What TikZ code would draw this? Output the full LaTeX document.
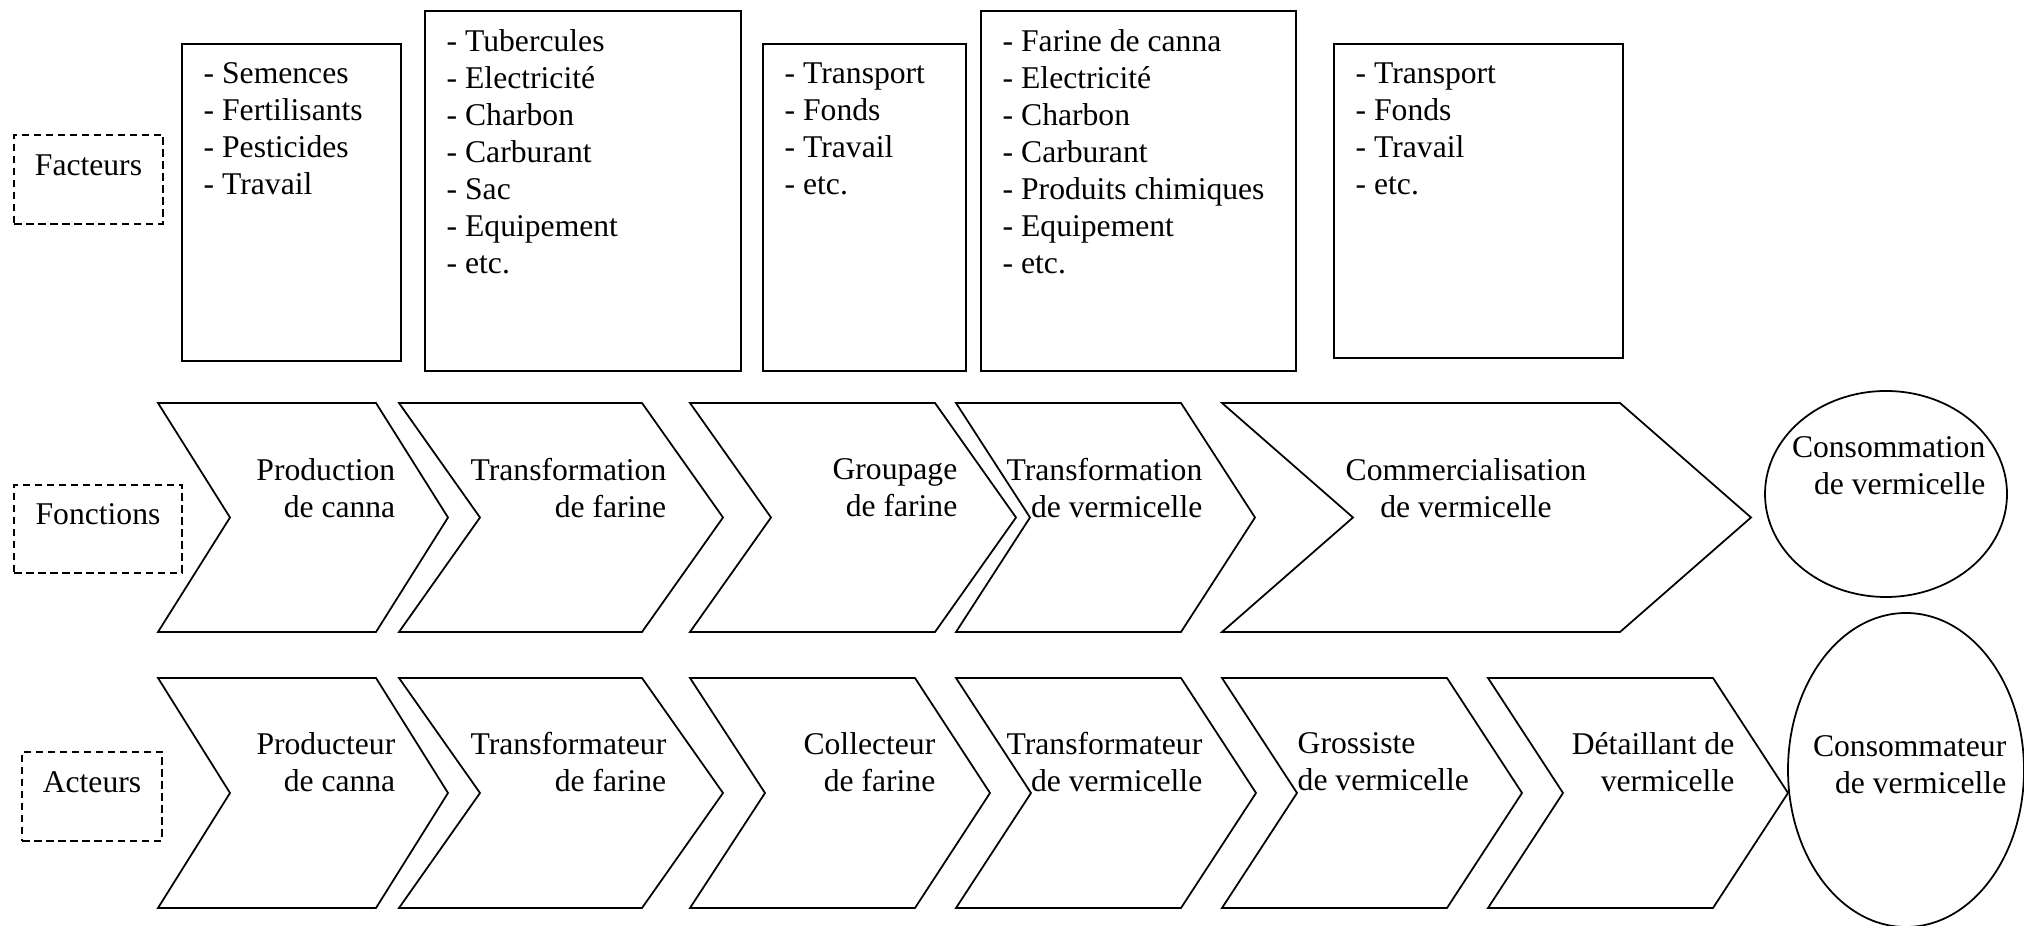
\documentclass[tikz,border=0pt]{standalone}
\usepackage{fontspec}
\setmainfont{Liberation Serif}
\usetikzlibrary{positioning, shapes.geometric}

\tikzset{
  factbox/.style={draw, line width=0.5pt, inner sep=0pt, anchor=north west},
  listtext/.style={align=left, inner sep=0pt},
  rowlabel/.style={draw, line width=0.5pt, dash pattern=on 0.75mm off 0.45mm, inner sep=0pt, text depth=2.9mm},
  chevron/.style={draw, line width=0.5pt, line join=miter},
  chevtext/.style={inner sep=0pt},
  endnode/.style={draw, ellipse, line width=0.5pt, inner sep=0pt}
}

\begin{document}
\begin{tikzpicture}[x=0.1mm, y=0.1mm, font=\fontsize{9}{10.5}\selectfont]
\useasboundingbox (0,0) rectangle (2024,926);

% left labels
\node (facteurs) [rowlabel, minimum width=14.9mm, minimum height=8.9mm] at (88.5,746.5) {Facteurs};
\node (fonctions) [rowlabel, minimum width=16.8mm, minimum height=8.8mm] at (98,397) {Fonctions};
\node (acteurs) [rowlabel, minimum width=14.0mm, minimum height=8.9mm] at (92,129.5) {Acteurs};

% facteurs
\node (f1) [factbox, minimum width=21.9mm, minimum height=31.7mm] at (181,883) {};
\node (f2) [factbox, minimum width=31.6mm, minimum height=36.0mm] at (424,916) {};
\node (f3) [factbox, minimum width=20.3mm, minimum height=32.7mm] at (762,883) {};
\node (f4) [factbox, minimum width=31.5mm, minimum height=36.0mm] at (980,916) {};
\node (f5) [factbox, minimum width=28.9mm, minimum height=31.4mm] at (1333,883) {};

\node (f1list) [listtext, below right=1.9mm and 2.2mm of f1.north west] {- Semences\\- Fertilisants\\- Pesticides\\- Travail};
\node (f2list) [listtext, below right=1.9mm and 2.2mm of f2.north west] {- Tubercules\\- Electricité\\- Charbon\\- Carburant\\- Sac\\- Equipement\\- etc.};
\node (f3list) [listtext, below right=1.9mm and 2.2mm of f3.north west] {- Transport\\- Fonds\\- Travail\\- etc.};
\node (f4list) [listtext, below right=1.9mm and 2.2mm of f4.north west] {- Farine de canna\\- Electricité\\- Charbon\\- Carburant\\- Produits chimiques\\- Equipement\\- etc.};
\node (f5list) [listtext, below right=1.9mm and 2.2mm of f5.north west] {- Transport\\- Fonds\\- Travail\\- etc.};

% fonctions
\foreach \l/\r/\d in {158/376/72, 399/642/81, 690/935/81, 956/1181/74, 1222/1620/131}
  \draw[chevron] (\l,523) -- (\r,523) -- ({\r+\d},408.5) -- (\r,294) -- (\l,294) -- ({\l+\d},408.5) -- cycle;

\node (prodcanna) [chevtext, align=right, anchor=north east] at (396,468) {Production\\de canna};
\node (transfar) [chevtext, align=right, anchor=north east] at (667,468) {Transformation\\de farine};
\node (groupfar) [chevtext, align=right, anchor=north east] at (958,468) {Groupage\\de farine};
\node (transverm) [chevtext, align=right, anchor=north east] at (1203,468) {Transformation\\de vermicelle};
\node (commverm) [chevtext, align=center, anchor=north] at (1466,468) {Commercialisation\\de vermicelle};

\node (consoverm) [endnode, minimum width=24.2mm, minimum height=20.6mm] at (1886,432) {};
\node (consotext) [chevtext, align=right, anchor=north east] at (1986,490) {Consommation\\de vermicelle};

% acteurs
\foreach \l/\r/\d in {158/376/72, 399/642/81, 690/915/75, 956/1181/75, 1222/1447/75, 1488/1713/75}
  \draw[chevron] (\l,248) -- (\r,248) -- ({\r+\d},133) -- (\r,18) -- (\l,18) -- ({\l+\d},133) -- cycle;

\node (prodteur) [chevtext, align=right, anchor=north east] at (396,194) {Producteur\\de canna};
\node (transfteur) [chevtext, align=right, anchor=north east] at (667,194) {Transformateur\\de farine};
\node (collect) [chevtext, align=right, anchor=north east] at (936,194) {Collecteur\\de farine};
\node (transvteur) [chevtext, align=right, anchor=north east] at (1203,194) {Transformateur\\de vermicelle};
\node (gross) [chevtext, align=left, anchor=north west] at (1297,194) {Grossiste\\de vermicelle};
\node (detail) [chevtext, align=right, anchor=north east] at (1735,194) {Détaillant de\\vermicelle};

\node (consomm) [endnode, minimum width=23.6mm, minimum height=31.4mm] at (1906,156) {};
\node (consomtext) [chevtext, align=right, anchor=north east] at (2007,191) {Consommateur\\de vermicelle};
\end{tikzpicture}
\end{document}
